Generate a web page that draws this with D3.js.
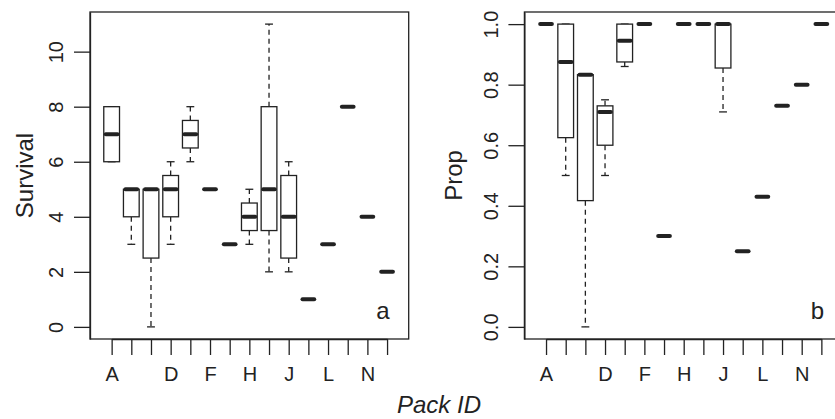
<!DOCTYPE html>
<html>
<head>
<meta charset="utf-8">
<script src="https://cdn.jsdelivr.net/npm/d3@7"></script>
<style>
  html, body { margin: 0; padding: 0; background: #fff; }
  svg { display: block; font-family: "Liberation Sans", Arial, sans-serif; }
</style>
</head>
<body>
<svg id="chart" width="835" height="419"></svg>
<script>
// ---- data ----
const categories = ["A","B","C","D","E","F","G","H","I","J","K","L","M","N","O"];
const shownLabels = ["A","D","F","H","J","L","N"];

const survivalMin    = [6, 3, 0,   3,   6,   5, 3, 3,   2,   2,   1, 3, 8, 4, 2];
const survivalQ1     = [6, 4, 2.5, 4,   6.5, 5, 3, 3.5, 3.5, 2.5, 1, 3, 8, 4, 2];
const survivalMedian = [7, 5, 5,   5,   7,   5, 3, 4,   5,   4,   1, 3, 8, 4, 2];
const survivalQ3     = [8, 5, 5,   5.5, 7.5, 5, 3, 4.5, 8,   5.5, 1, 3, 8, 4, 2];
const survivalMax    = [8, 5, 5,   6,   8,   5, 3, 5,   11,  6,   1, 3, 8, 4, 2];
const survivalTicks  = [0, 2, 4, 6, 8, 10];

const propMin    = [1, 0.5,   0,     0.5,  0.86,  1, 0.3, 1, 1, 0.71,  0.25, 0.43, 0.73, 0.8, 1];
const propQ1     = [1, 0.625, 0.417, 0.6,  0.875, 1, 0.3, 1, 1, 0.855, 0.25, 0.43, 0.73, 0.8, 1];
const propMedian = [1, 0.875, 0.833, 0.71, 0.945, 1, 0.3, 1, 1, 1,     0.25, 0.43, 0.73, 0.8, 1];
const propQ3     = [1, 1,     0.833, 0.73, 1,     1, 0.3, 1, 1, 1,     0.25, 0.43, 0.73, 0.8, 1];
const propMax    = [1, 1,     0.833, 0.75, 1,     1, 0.3, 1, 1, 1,     0.25, 0.43, 0.73, 0.8, 1];
const propTicks  = [0, 0.2, 0.4, 0.6, 0.8, 1.0];

// ---- drawing ----
const svg = d3.select("#chart");
const ink = "#222";
const tickFont = 20;

function panel(opts) {
  const { left, right, top, bottom, yDomain, ticks, fmt, mins, q1s, meds, q3s, maxs,
          ylab, ylabX, tickLabX, letter, letterX } = opts;
  const g = svg.append("g");
  const nCat = categories.length;
  // R: xlim = c(0.5, n+0.5) expanded by 4% on each side
  const span = nCat + 1.2;
  const step = (right - left) / span;
  const x = d3.scalePoint().domain(categories)
    .range([left + 1.1 * step, left + (1.1 + nCat - 1) * step]);
  const y = d3.scaleLinear().domain(yDomain).range([bottom, top]);
  const bw = 0.8 * x.step();

  // frame
  g.append("rect").attr("x", left).attr("y", top)
    .attr("width", right - left).attr("height", bottom - top)
    .attr("fill", "none").attr("stroke", ink).attr("stroke-width", 1.3);

  // x axis
  const xa = g.append("g").attr("transform", `translate(0,${bottom})`)
    .call(d3.axisBottom(x).tickSize(16).tickSizeOuter(0)
      .tickFormat(d => shownLabels.includes(d) ? d : ""));
  xa.select(".domain").attr("stroke", ink).attr("stroke-width", 1.3);
  xa.selectAll(".tick line").attr("stroke", ink).attr("stroke-width", 1.3);
  xa.selectAll(".tick text").attr("y", 42).attr("dy", null)
    .attr("font-size", tickFont).attr("fill", ink)
    .attr("font-family", "Liberation Sans, Arial, sans-serif");

  // y axis
  const ya = g.append("g").attr("transform", `translate(${left},0)`)
    .call(d3.axisLeft(y).tickValues(ticks).tickSize(16).tickSizeOuter(0).tickFormat(fmt));
  ya.select(".domain").attr("stroke", ink).attr("stroke-width", 1.3);
  ya.selectAll(".tick line").attr("stroke", ink).attr("stroke-width", 1.3);
  ya.selectAll(".tick text")
    .attr("x", null).attr("dy", null)
    .attr("transform", `translate(${tickLabX - left},0) rotate(-90)`)
    .attr("text-anchor", "middle")
    .attr("font-size", tickFont).attr("fill", ink)
    .attr("font-family", "Liberation Sans, Arial, sans-serif");

  // y label
  g.append("text")
    .attr("transform", `translate(${ylabX},${(top + bottom) / 2}) rotate(-90)`)
    .attr("text-anchor", "middle").attr("font-size", 24).attr("fill", ink)
    .text(ylab);

  // panel letter
  g.append("text").attr("x", letterX).attr("y", 319)
    .attr("text-anchor", "middle").attr("font-size", 24).attr("fill", ink)
    .text(letter);

  // boxes
  categories.forEach((c, i) => {
    const cx = x(c);
    const bg = g.append("g");
    // whiskers (dashed)
    bg.append("line").attr("x1", cx).attr("x2", cx)
      .attr("y1", y(q3s[i])).attr("y2", y(maxs[i]))
      .attr("stroke", ink).attr("stroke-width", 1.3).attr("stroke-dasharray", "5,4");
    bg.append("line").attr("x1", cx).attr("x2", cx)
      .attr("y1", y(q1s[i])).attr("y2", y(mins[i]))
      .attr("stroke", ink).attr("stroke-width", 1.3).attr("stroke-dasharray", "5,4");
    // staples
    [mins[i], maxs[i]].forEach(v => {
      bg.append("line").attr("x1", cx - bw / 4).attr("x2", cx + bw / 4)
        .attr("y1", y(v)).attr("y2", y(v))
        .attr("stroke", ink).attr("stroke-width", 1.3);
    });
    // box
    bg.append("rect").attr("x", cx - bw / 2).attr("width", bw)
      .attr("y", y(q3s[i])).attr("height", y(q1s[i]) - y(q3s[i]))
      .attr("fill", "#fff").attr("stroke", ink).attr("stroke-width", 1.3);
    // median
    bg.append("line").attr("x1", cx - bw / 2 + 2).attr("x2", cx + bw / 2 - 2)
      .attr("y1", y(meds[i])).attr("y2", y(meds[i]))
      .attr("stroke", ink).attr("stroke-width", 4).attr("stroke-linecap", "round");
  });
}

panel({
  left: 90, right: 408.7, top: 12, bottom: 339,
  yDomain: [-0.44, 11.44], ticks: survivalTicks, fmt: d3.format("d"),
  mins: survivalMin, q1s: survivalQ1, meds: survivalMedian, q3s: survivalQ3, maxs: survivalMax,
  ylab: "Survival", ylabX: 33, tickLabX: 63, letter: "a", letterX: 383
});

panel({
  left: 524.4, right: 843, top: 12, bottom: 339,
  yDomain: [-0.04, 1.04], ticks: propTicks, fmt: d3.format(".1f"),
  mins: propMin, q1s: propQ1, meds: propMedian, q3s: propQ3, maxs: propMax,
  ylab: "Prop", ylabX: 462, tickLabX: 498, letter: "b", letterX: 817.5
});

// common x title
svg.append("text").attr("x", 439).attr("y", 413)
  .attr("text-anchor", "middle").attr("font-size", 24).attr("font-style", "italic")
  .attr("fill", ink).text("Pack ID");
</script>
</body>
</html>
